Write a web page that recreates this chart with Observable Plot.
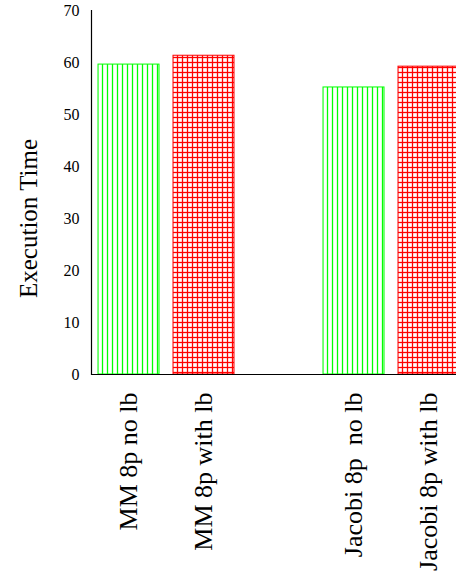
<!DOCTYPE html>
<html>
<head>
<meta charset="utf-8">
<script src="https://cdn.jsdelivr.net/npm/d3@7"></script>
<script src="https://cdn.jsdelivr.net/npm/@observablehq/plot@0.6"></script>
<style>
  html, body { margin: 0; padding: 0; background: #fff; overflow: hidden; }
  svg text { white-space: pre; }
</style>
</head>
<body>
<div id="chart"></div>
<script>
const categories = ["MM 8p no lb", "MM 8p with lb", "", "Jacobi 8p  no lb", "Jacobi 8p with lb"];
const barNames = ["MM 8p no lb", "MM 8p with lb", "Jacobi 8p  no lb", "Jacobi 8p with lb"];
const values = [59.6, 61.3, 55.2, 59.2];
const loadBalanced = [false, true, false, true];
const yTicks = [0, 10, 20, 30, 40, 50, 60, 70];
const yTitle = "Execution Time";

const data = barNames.map((name, i) => ({name, value: values[i], lb: loadBalanced[i]}));
const font = "'Liberation Serif', 'Times New Roman', serif";

const chart = Plot.plot({
  width: 456,
  height: 571,
  marginLeft: 91,
  marginRight: 0,
  marginTop: 10,
  marginBottom: 197,
  style: {fontFamily: font, color: "#000", background: "#fff"},
  x: {domain: categories, range: [91, 466], paddingInner: 0.187, paddingOuter: 0.093, label: null},
  y: {domain: [0, 70], label: null},
  marks: [
    Plot.barY(data.filter(d => !d.lb), {x: "name", y: "value", fill: "url(#vhatch)", stroke: "#00ff00", strokeWidth: 1}),
    Plot.barY(data.filter(d => d.lb), {x: "name", y: "value", fill: "url(#grid)", stroke: "#ff0000", strokeWidth: 1}),
    Plot.axisY({ticks: yTicks, tickSize: 0, tickPadding: 12, fontSize: 16, label: null}),
    Plot.axisX({tickSize: 0, tickPadding: 18, tickRotate: -90, fontSize: 26, label: null}),
    Plot.ruleY([0], {stroke: "#000", strokeWidth: 1.2}),
    Plot.frame({anchor: "left", stroke: "#000", strokeWidth: 1.2}),
    Plot.text([yTitle], {y: [30], frameAnchor: "left", rotate: -90, textAnchor: "middle", dx: -63, fontSize: 25, fill: "#000"})
  ]
});

// hatch patterns
const ns = "http://www.w3.org/2000/svg";
const defs = document.createElementNS(ns, "defs");
defs.innerHTML = `
  <pattern id="vhatch" patternUnits="userSpaceOnUse" width="5" height="5">
    <rect width="5" height="5" fill="#fff"/>
    <line x1="2.5" y1="0" x2="2.5" y2="5" stroke="#00ff00" stroke-width="1.3"/>
  </pattern>
  <pattern id="grid" patternUnits="userSpaceOnUse" width="5" height="5">
    <rect width="5" height="5" fill="#fff"/>
    <line x1="2.5" y1="0" x2="2.5" y2="5" stroke="#ff0000" stroke-width="1.3"/>
    <line x1="0" y1="2.5" x2="5" y2="2.5" stroke="#ff0000" stroke-width="1.3"/>
  </pattern>`;
chart.insertBefore(defs, chart.firstChild);
document.getElementById("chart").appendChild(chart);
</script>
</body>
</html>
